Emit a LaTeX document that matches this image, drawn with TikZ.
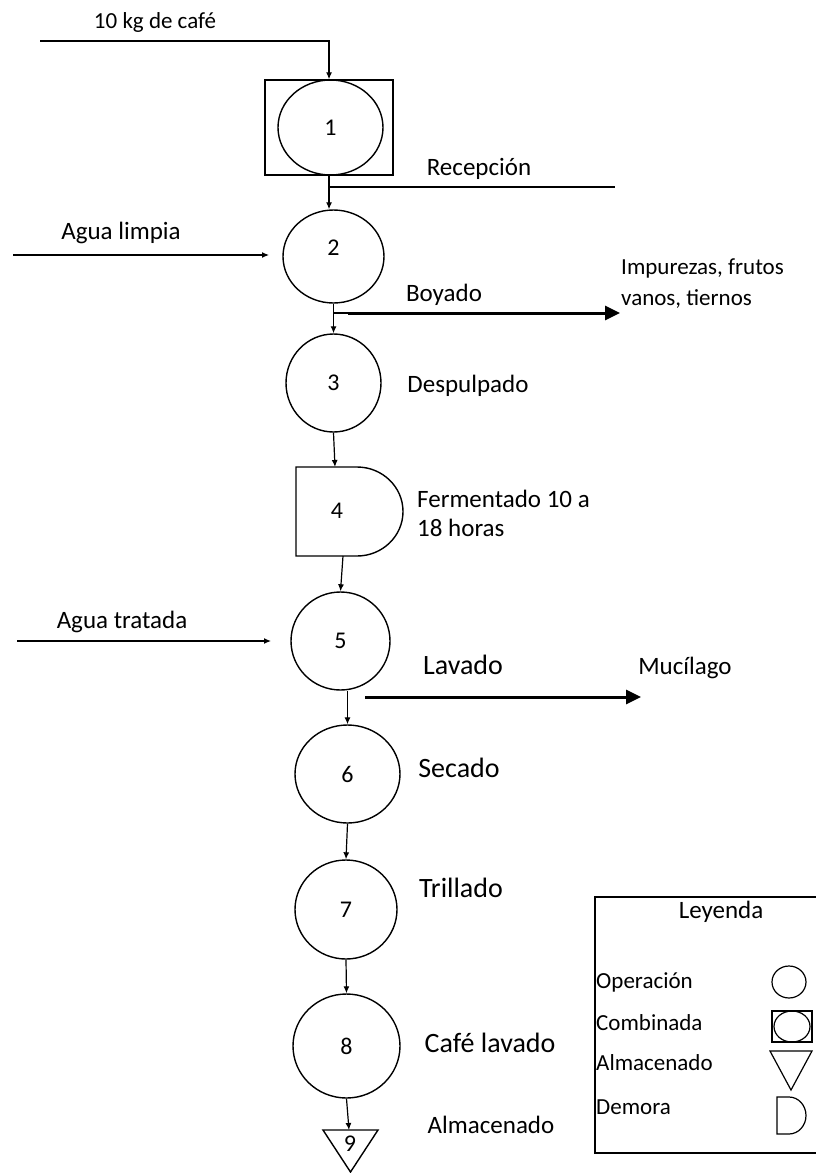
\documentclass[tikz,border=0pt]{standalone}
\usepackage{fontspec}
\setmainfont{Carlito}
\usetikzlibrary{positioning, arrows.meta, shapes.geometric}

\begin{document}
\begin{tikzpicture}[x=1pt, y=-1pt]
    \tikzset{
      op/.style={
        ellipse, draw=black, line width=1.4pt, inner sep=0pt,
        font=\fontsize{24}{28}\selectfont
      },
      combo/.style={rectangle, draw=black, line width=1.4pt, inner sep=0pt},
      lbl/.style={font=\fontsize{25}{29}\selectfont, inner sep=0pt},
      biglbl/.style={font=\fontsize{28}{33}\selectfont, inner sep=0pt},
      smalllbl/.style={font=\fontsize{23}{31}\selectfont, inner sep=0pt, align=left},
      plain/.style={line width=1.2pt},
      flow/.style={line width=1.2pt, -{Latex[length=7pt,width=6pt]}},
      waste/.style={line width=3pt, -{Triangle[length=15pt,width=14pt]}},
      shapeline/.style={draw=black, line width=1.4pt}
    }
    \useasboundingbox (0,0) rectangle (815,1173);

    % Process column
    \node[combo, minimum width=128, minimum height=95] (b1) at (329,127.5) {};
    \node[op, minimum width=105, minimum height=95] (n1) at (330.5,127.5) {1};
    \node[op, minimum width=101, minimum height=93, text depth=18pt] (n2) at (333.5,256.5) {2};
    \node[op, minimum width=95, minimum height=98] (n3) at (333.5,383) {3};
    \node[font=\fontsize{24}{28}\selectfont, inner sep=0pt] (n4) at (337,511) {4};
    \draw[shapeline] (296,467) -- (357,467)
      arc[start angle=-90, end angle=90, x radius=46, y radius=44.5] -- (296,556) -- cycle;
    \node[op, minimum width=99, minimum height=98] (n5) at (340.5,641) {5};
    \node[op, minimum width=105, minimum height=98] (n6) at (347.5,774) {6};
    \node[op, minimum width=102, minimum height=99] (n7) at (346,909.5) {7};
    \node[op, minimum width=107, minimum height=104] (n8) at (346.5,1046) {8};
    \node[font=\fontsize{24}{28}\selectfont, inner sep=0pt] (n9) at (350,1144) {9};
    \draw[shapeline] (323,1130) -- (378,1130) -- (350.5,1172) -- cycle;

    % Connector ends
    \coordinate (cafe) at (40,41);
    \coordinate (recA) at (329,187);
    \coordinate (recB) at (615,187);
    \coordinate (aguaA) at (13,255);
    \coordinate (aguaB) at (269,255);
    \coordinate (boyA) at (333.5,313);
    \coordinate (boyB) at (348,313);
    \coordinate (boyC) at (620,313);
    \coordinate (d4in) at (335,467);
    \coordinate (d4out) at (343,556);
    \coordinate (tratA) at (17,641);
    \coordinate (tratB) at (271,641);
    \coordinate (mucA) at (365,697);
    \coordinate (mucB) at (641,697);
    \coordinate (t9in) at (349,1130);

    % Flow arrows
    \draw[flow] (cafe) -| (b1.north);
    \draw[flow] (b1.south) -- (b1.south |- n2.north);
    \draw[plain] (recA) -- (recB);
    \draw[flow] (aguaA) -- (aguaB);
    \draw[flow] (n2.south) -- (n3.north);
    \draw[plain] (boyA) -- (boyB);
    \draw[waste] (boyB) -- (boyC);
    \draw[flow] (n3.south) -- (d4in);
    \draw[flow] (d4out) -- (n5.north);
    \draw[flow] (tratA) -- (tratB);
    \draw[waste] (mucA) -- (mucB);
    \draw[flow] (n6.north |- n5.south) -- (n6.north);
    \draw[flow] (n6.south) -- (n7.north);
    \draw[flow] (n7.south) -- (n8.north);
    \draw[flow] (n8.south) -- (t9in);

    % Labels
    \node[smalllbl] (kg) at (155,22) {10 kg de café};
    \node[lbl] (recl) at (479,169) {Recepción};
    \node[lbl] (limp) at (121,233) {Agua limpia};
    \node[lbl] (boy) at (444,295) {Boyado};
    \node[smalllbl, anchor=west] (imp) at (621,284) {Impurezas, frutos\\vanos, tiernos};
    \node[lbl] (desp) at (468,386) {Despulpado};
    \node[lbl, anchor=west, align=left] (ferm) at (417,513) {Fermentado 10 a\\18 horas};
    \node[lbl] (trat) at (122,622) {Agua tratada};
    \node[biglbl] (lav) at (463,665) {Lavado};
    \node[lbl] (muc) at (685,668) {Mucílago};
    \node[biglbl] (sec) at (459,768) {Secado};
    \node[biglbl] (tril) at (461,888) {Trillado};
    \node[biglbl] (cl) at (490,1043) {Café lavado};
    \node[lbl] (alm) at (491,1125) {Almacenado};

    % Legend
    \draw[line width=1.4pt] (595,897) rectangle (817,1153);
    \node[lbl] (ley) at (721,912) {Leyenda};
    \node[smalllbl, anchor=west] (lop) at (596,982) {Operación};
    \node[smalllbl, anchor=west] (lcb) at (596,1023) {Combinada};
    \node[smalllbl, anchor=west] (lal) at (596,1063) {Almacenado};
    \node[smalllbl, anchor=west] (lde) at (596,1107) {Demora};
    \node[op, line width=1.2pt, minimum width=34, minimum height=32] (sop) at (789,982) {};
    \node[combo, line width=1.2pt, minimum width=40, minimum height=31] (scb) at (792,1026.5) {};
    \node[op, line width=1.2pt, minimum width=36, minimum height=31] (scbo) at (792,1026.5) {};
    \draw[shapeline, line width=1.2pt] (770,1051) -- (812,1051) -- (791,1090) -- cycle;
    \draw[shapeline, line width=1.2pt] (777,1097) -- (789,1097)
      arc[start angle=-90, end angle=90, x radius=17, y radius=18.5] -- (777,1134) -- cycle;
\end{tikzpicture}
\end{document}
